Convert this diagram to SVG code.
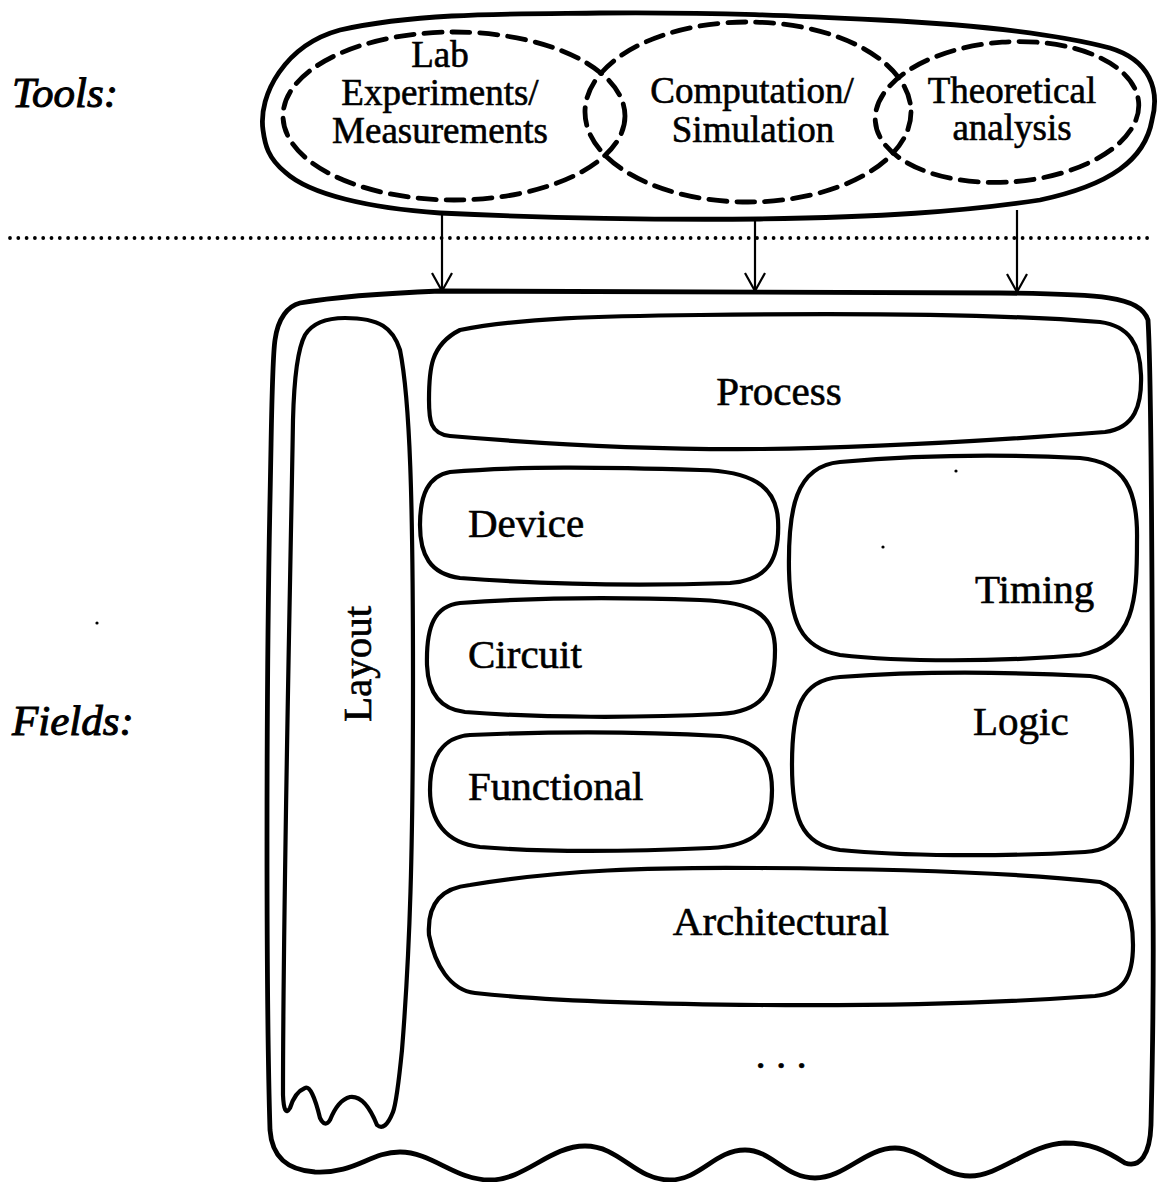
<svg xmlns="http://www.w3.org/2000/svg" width="1160" height="1182" viewBox="0 0 1160 1182">
  <defs>
    <style>
      .solid { fill: none; stroke: #000; stroke-width: 4.2; stroke-linejoin: round; stroke-linecap: round; }
      .heavy { fill: none; stroke: #000; stroke-width: 4.8; stroke-linejoin: round; stroke-linecap: round; }
      .dashed { fill: none; stroke: #000; stroke-width: 4.8; stroke-dasharray: 18 10; stroke-linecap: round; }
      .dotted { fill: none; stroke: #000; stroke-width: 3.8; stroke-dasharray: 0 8.3; stroke-linecap: round; }
      .link { fill: none; stroke: #000; stroke-width: 2.2; }
      text { fill: #000; stroke: #000; stroke-width: 0.6; }
      .tool { font-family: "Liberation Serif", "Times New Roman", serif; font-size: 37px; text-anchor: middle; }
      .field { font-family: "Liberation Serif", "Times New Roman", serif; font-size: 41px; }
      .side { font-family: "Liberation Serif", "Times New Roman", serif; font-size: 43px; font-style: italic; stroke-width: 1; }
    </style>
    <marker id="vhead" viewBox="-20 -12 22 24" refX="0" refY="0" markerWidth="22" markerHeight="24" markerUnits="userSpaceOnUse" orient="auto">
      <path d="M -18,-10 L 0,0 L -18,10" fill="none" stroke="#000" stroke-width="2.2" stroke-linejoin="miter"/>
    </marker>
  </defs>

  <rect x="0" y="0" width="1160" height="1182" fill="#fff"/>

  <!-- side captions -->
  <text class="side" x="12" y="107">Tools:</text>
  <text class="side" x="12" y="735">Fields:</text>

  <!-- tools cluster -->
  <g id="tools">
    <path class="heavy" d="M 263,130 C 258,95 285,45 340,30 C 420,12 520,14 600,13 C 720,12 800,16 880,20 C 980,25 1060,35 1110,48 C 1150,60 1160,90 1152,120 C 1145,160 1110,185 1040,200 C 960,212 880,217 760,219 C 640,220 520,217 440,213 C 370,208 310,195 285,172 C 268,158 265,145 263,130 Z"/>
  </g>
  <g id="tool-lab">
    <ellipse class="dashed" cx="454" cy="116" rx="171" ry="84"/>
    <text class="tool" x="440" y="67">Lab</text>
    <text class="tool" x="440" y="105">Experiments/</text>
    <text class="tool" x="440" y="143">Measurements</text>
  </g>
  <g id="tool-computation">
    <ellipse class="dashed" cx="748" cy="112" rx="163" ry="90"/>
    <text class="tool" x="752" y="103">Computation/</text>
    <text class="tool" x="753" y="142">Simulation</text>
  </g>
  <g id="tool-theory">
    <ellipse class="dashed" cx="1007" cy="112" rx="132" ry="70" transform="rotate(-4 1007 112)"/>
    <text class="tool" x="1012" y="103">Theoretical</text>
    <text class="tool" x="1012" y="140">analysis</text>
  </g>

  <!-- boundary between tools and fields -->
  <line class="dotted" x1="10" y1="238" x2="1155" y2="238"/>

  <!-- connectors -->
  <g id="connectors">
    <line class="link" x1="442" y1="213" x2="442" y2="291" marker-end="url(#vhead)"/>
    <line class="link" x1="755" y1="219" x2="755" y2="291" marker-end="url(#vhead)"/>
    <line class="link" x1="1017" y1="210" x2="1017" y2="292" marker-end="url(#vhead)"/>
  </g>

  <!-- fields container with ragged lower edge -->
  <g id="fields">
    <path class="heavy" d="M 300,303 C 340,296 390,293 440,291 C 600,290 800,292 1000,293 C 1100,294 1140,296 1148,320 C 1153,400 1152,700 1153,900 C 1154,1000 1152,1080 1151,1125 C 1150,1155 1140,1168 1125,1163 C 1105,1150 1090,1143 1065,1143 C 1030,1144 1000,1176 970,1176 C 940,1176 922,1148 895,1148 C 865,1148 845,1178 815,1178 C 785,1178 772,1150 745,1150 C 715,1150 700,1180 670,1180 C 635,1180 620,1146 585,1146 C 550,1146 525,1180 490,1180 C 455,1180 432,1152 400,1152 C 370,1152 355,1174 315,1172 C 288,1170 272,1158 270,1130 C 266,1000 266,700 270,500 C 272,400 272,360 275,340 C 278,318 288,306 300,303 Z"/>
  </g>

  <g id="field-layout">
    <path class="solid" d="M 345,318 C 380,318 393,328 400,350 C 410,400 413,500 413,680 C 413,850 410,950 402,1050 C 398,1090 396,1104 393,1112 Q 385,1132 377,1125 Q 365,1095 350,1097 Q 338,1100 330,1120 Q 325,1128 320,1118 Q 312,1085 305,1088 Q 295,1092 290,1108 Q 284,1118 283,1095 C 283,900 290,600 293,420 C 294,380 297,350 305,335 C 313,322 328,318 345,318 Z"/>
    <text class="field" text-anchor="middle" transform="translate(371 664) rotate(-90)">Layout</text>
  </g>

  <g id="field-process">
    <path class="solid" d="M 460,330 C 520,318 600,316 700,315 C 850,313 1000,314 1100,322 C 1130,326 1140,345 1141,375 C 1142,405 1135,428 1105,432 C 1000,440 880,448 760,449 C 640,450 520,442 450,436 C 430,434 429,420 429,400 C 429,370 430,345 460,330 Z"/>
    <text class="field" text-anchor="middle" x="779" y="405">Process</text>
  </g>

  <g id="field-device">
    <path class="solid" d="M 450,472 C 520,466 600,467 700,470 C 750,471 776,485 778,520 C 780,560 768,580 730,583 C 640,586 540,584 460,578 C 430,574 420,555 420,525 C 420,495 428,476 450,472 Z"/>
    <text class="field" x="468" y="537">Device</text>
  </g>

  <g id="field-circuit">
    <path class="solid" d="M 460,603 C 540,597 620,597 700,600 C 755,602 775,615 775,650 C 775,695 760,712 720,714 C 640,718 540,718 465,712 C 438,709 428,690 427,665 C 426,625 435,606 460,603 Z"/>
    <text class="field" x="468" y="668">Circuit</text>
  </g>

  <g id="field-functional">
    <path class="solid" d="M 470,735 C 560,731 650,732 720,736 C 760,740 772,760 772,790 C 772,830 755,846 710,848 C 620,852 540,852 480,847 C 445,843 430,820 430,790 C 430,758 442,737 470,735 Z"/>
    <text class="field" x="468" y="800">Functional</text>
  </g>

  <g id="field-timing">
    <path class="solid" d="M 840,462 C 920,455 1000,454 1080,458 C 1125,462 1138,490 1137,540 C 1137,600 1135,645 1080,655 C 1000,662 900,662 840,655 C 800,648 790,620 789,570 C 788,510 795,466 840,462 Z"/>
    <text class="field" x="975" y="603">Timing</text>
  </g>

  <g id="field-logic">
    <path class="solid" d="M 840,677 C 920,671 1010,672 1090,676 C 1125,680 1132,705 1132,760 C 1132,820 1125,850 1085,852 C 1000,857 900,856 840,850 C 800,845 792,815 792,765 C 792,710 800,680 840,677 Z"/>
    <text class="field" x="973" y="735">Logic</text>
  </g>

  <g id="field-architectural">
    <path class="solid" d="M 470,885 C 560,870 650,867 760,868 C 900,869 1030,874 1100,882 C 1125,890 1133,915 1133,945 C 1133,975 1125,993 1095,996 C 1000,1003 880,1006 760,1005 C 640,1004 540,1000 475,993 C 450,990 435,965 429,935 C 427,905 440,888 470,885 Z"/>
    <text class="field" text-anchor="middle" x="781" y="935">Architectural</text>
  </g>

  <g id="field-more">
    <text class="field" text-anchor="middle" x="781" y="1068">. . .</text>
  </g>

  <!-- specks -->
  <circle cx="97" cy="623" r="1.6" fill="#000"/>
  <circle cx="956" cy="471" r="1.6" fill="#000"/>
  <circle cx="883" cy="547" r="1.6" fill="#000"/>
</svg>
